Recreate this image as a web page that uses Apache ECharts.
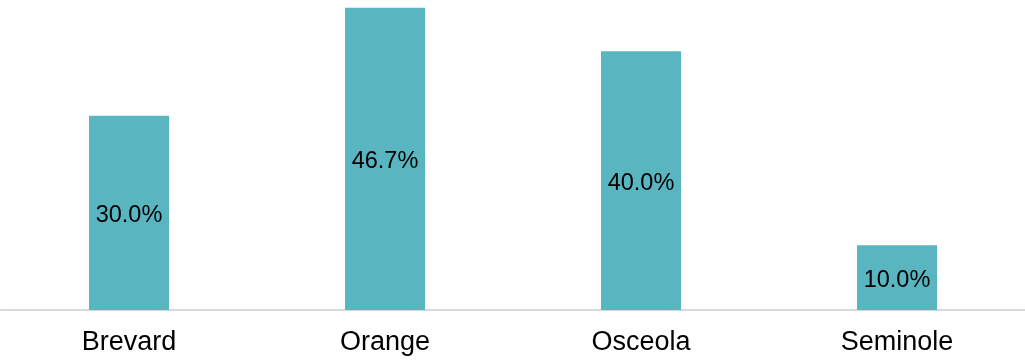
<!DOCTYPE html>
<html>
<head>
<meta charset="utf-8">
<script src="https://cdn.jsdelivr.net/npm/echarts@6/dist/echarts.min.js"></script>
<style>
  html, body { margin: 0; padding: 0; background: #fff; }
  #main { width: 1025px; height: 361px; }
</style>
</head>
<body>
<div id="main"></div>
<script>
// 数据
var counties = ['Brevard', 'Orange', 'Osceola', 'Seminole'];
var shares = [30.0, 46.7, 40.0, 10.0];

var myChart = echarts.init(document.getElementById('main'));
myChart.setOption({
    animation: false,
    grid: { left: 1, right: 0, top: 0, bottom: 51 },
    xAxis: {
        type: 'category',
        data: counties,
        axisLine: { lineStyle: { color: '#d9d9d9', width: 2 } },
        axisTick: { show: false },
        axisLabel: {
            color: '#000',
            fontFamily: 'Liberation Sans, Arial, sans-serif',
            fontSize: 27,
            margin: 19
        }
    },
    yAxis: {
        type: 'value',
        min: 0,
        max: 47.9,
        show: false,
        splitLine: { show: false }
    },
    series: [{
        type: 'bar',
        data: shares,
        barWidth: 80,
        itemStyle: { color: '#59b6c0' },
        label: {
            show: true,
            position: 'inside',
            offset: [0, 3],
            color: '#000',
            fontFamily: 'Liberation Sans, Arial, sans-serif',
            fontSize: 23.5,
            formatter: function (p) { return p.value.toFixed(1) + '%'; }
        }
    }]
});
</script>
</body>
</html>
